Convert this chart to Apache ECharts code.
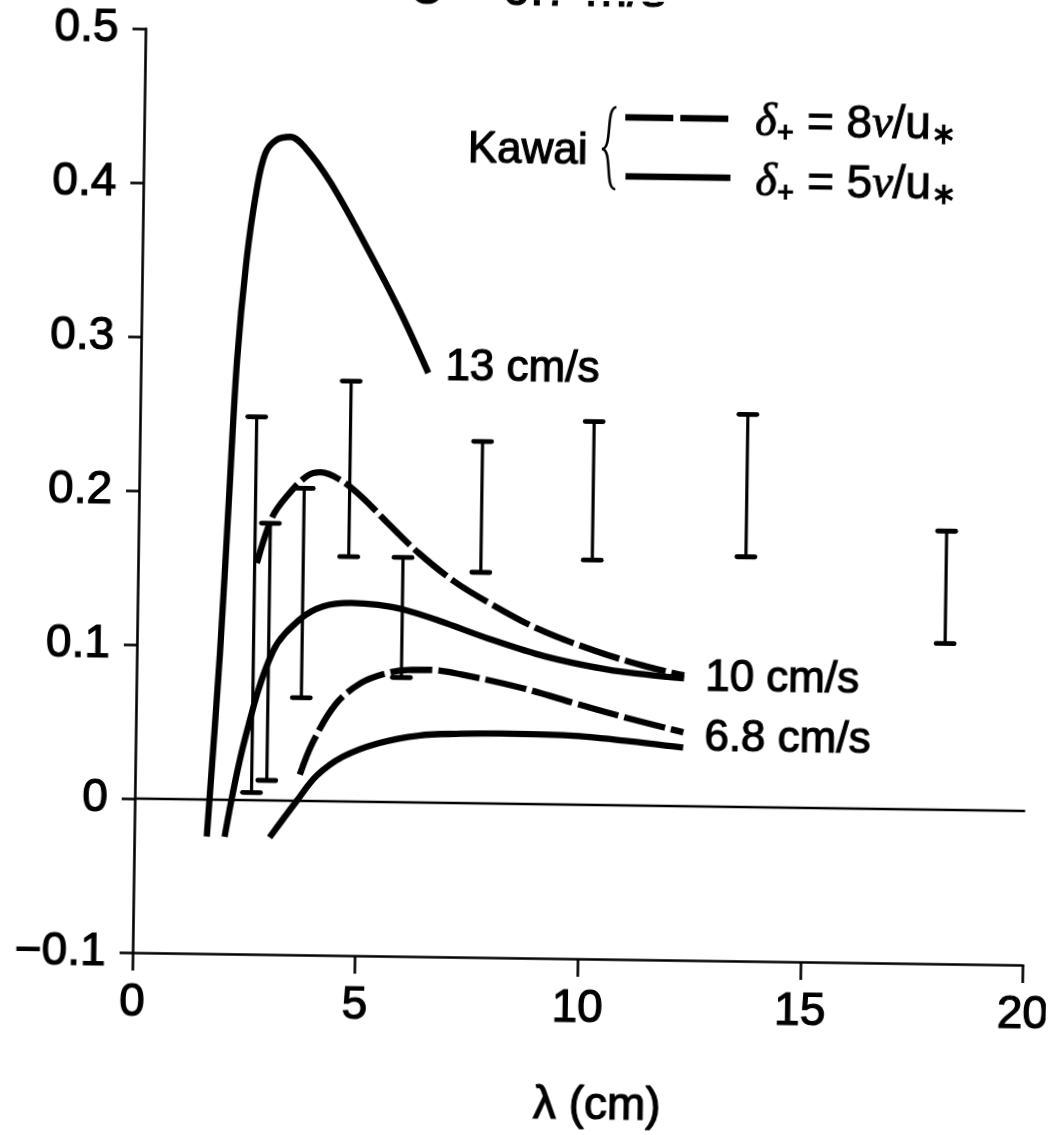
<!DOCTYPE html>
<html>
<head>
<meta charset="utf-8">
<script src="https://cdn.jsdelivr.net/npm/echarts@6/dist/echarts.min.js"></script>
<style>
html,body{margin:0;padding:0;background:#fff;overflow:hidden;}
#chart{width:1052px;height:1135px;transform:rotate(0.8deg);transform-origin:50% 50%;}
</style>
</head>
<body>
<div id="chart"></div>
<script>
// ---------- data ----------
const xTickLabels = ['0', '5', '10', '15', '20'];
const yTickLabels = ['−0.1', '0', '0.1', '0.2', '0.3', '0.4', '0.5'];

// 13 cm/s, Kawai delta+ = 5 nu/u* (solid)
const lam13 = [1.63, 1.87, 2.02, 2.16, 2.34, 2.54, 2.73, 2.98, 3.29, 3.63, 4.2, 5.0, 5.8, 6.46];
const val13 = [-0.024, 0.096, 0.194, 0.285, 0.350, 0.395, 0.420, 0.429, 0.431, 0.424, 0.402, 0.362, 0.319, 0.279];

// 10 cm/s, delta+ = 8 nu/u* (dashed)
const lam10d = [2.67, 3.0, 3.33, 3.77, 4.08, 4.5, 5.0, 5.6, 6.3, 7.1, 7.85, 8.99, 10.3, 11.5, 12.3];
const val10d = [0.154, 0.184, 0.198, 0.211, 0.2135, 0.209, 0.198, 0.181, 0.162, 0.144, 0.131, 0.114, 0.100, 0.090, 0.085];

// 10 cm/s, delta+ = 5 nu/u* (solid)
const lam10s = [2.03, 2.45, 3.06, 3.66, 4.17, 4.8, 5.4, 6.0, 6.8, 7.9, 9.17, 10.57, 11.5, 12.3];
const val10s = [-0.024, 0.039, 0.097, 0.118, 0.1265, 0.129, 0.128, 0.125, 0.118, 0.107, 0.096, 0.088, 0.085, 0.083];

// 6.8 cm/s, delta+ = 8 nu/u* (dashed)
const lam68d = [3.7, 3.98, 4.48, 5.04, 5.6, 6.1, 6.6, 7.3, 8.7, 9.9, 11.0, 12.3];
const val68d = [0.017, 0.038, 0.063, 0.077, 0.0835, 0.086, 0.0862, 0.0835, 0.075, 0.0655, 0.057, 0.048];

// 6.8 cm/s, delta+ = 5 nu/u* (solid)
const lam68s = [3.04, 3.64, 4.08, 4.66, 5.44, 6.36, 7.3, 8.2, 9.6, 11.0, 12.3];
const val68s = [-0.024, 0.0, 0.0165, 0.029, 0.038, 0.0435, 0.045, 0.0455, 0.045, 0.042, 0.038];

// measured ranges (error bars)
const barLambda = [2.62, 2.96, 3.71, 4.73, 5.95, 7.7, 10.2, 13.65, 18.15];
const barLow    = [0.005, 0.013, 0.067, 0.159, 0.081, 0.150, 0.159, 0.1625, 0.108];
const barHigh   = [0.249, 0.180, 0.203, 0.273, 0.159, 0.235, 0.249, 0.255, 0.181];

// zero reference line
const zeroLam = [0, 20];
const zeroVal = [0, 0];

const curveLabels = ['13 cm/s', '10 cm/s', '6.8 cm/s'];
const legendTexts = ['Kawai'];
const titleText = 'U = 6.7 m/s';
const xName = 'λ (cm)';

// ---------- chart ----------
const zip = (a, b) => a.map((v, i) => [v, b[i]]);
const FONT = '"Liberation Sans", Arial, Helvetica, sans-serif';
const BLACK = '#000';
const TB = {textBorderColor: BLACK, textBorderWidth: 1.2};

const chart = echarts.init(document.getElementById('chart'), null, {renderer: 'canvas'});

function lineSeries(name, xs, ys, dashed, label, labOffset) {
  const s = {
    name: name,
    type: 'line',
    data: zip(xs, ys),
    smooth: 0.35,
    showSymbol: false,
    symbol: 'none',
    z: 5,
    lineStyle: {color: BLACK, width: 6.3, type: dashed ? [42, 6] : 'solid', cap: 'butt', join: 'round'},
    silent: true
  };
  if (label) {
    s.endLabel = Object.assign({
      show: true, formatter: label, color: BLACK, fontSize: 44, fontFamily: FONT,
      distance: labOffset[0], offset: [0, labOffset[1]]
    }, TB);
  }
  return s;
}

const richStyle = {
  n: {fontSize: 46, fontFamily: FONT, fill: BLACK, stroke: BLACK, lineWidth: 1, lineHeight: 50},
  g: {fontSize: 46, fontFamily: '"Liberation Serif", serif', fontStyle: 'italic', fill: BLACK, stroke: BLACK, lineWidth: 1, lineHeight: 50},
  s: {fontSize: 30, fontFamily: FONT, fontWeight: 'bold', fill: BLACK, lineHeight: 14, verticalAlign: 'bottom'}
};

const option = {
  animation: false,
  backgroundColor: '#fff',
  grid: {left: 138, right: 23.5, top: 34, bottom: 177, containLabel: false, outerBoundsMode: 'none'},
  xAxis: {
    type: 'value', min: 0, max: 20, interval: 5,
    axisLine: {show: true, onZero: false, lineStyle: {color: BLACK, width: 2.6}},
    axisTick: {show: true, inside: false, length: 18, lineStyle: {color: BLACK, width: 2.6}},
    axisLabel: Object.assign({
      show: true, color: BLACK, fontSize: 46, fontFamily: FONT, margin: 27,
      formatter: (v) => xTickLabels[Math.round(v / 5)]
    }, TB),
    splitLine: {show: false},
    name: xName, nameLocation: 'middle', nameGap: 124,
    nameTextStyle: Object.assign({color: BLACK, fontSize: 46, fontFamily: FONT, padding: [0, 0, 0, 42]}, TB)
  },
  yAxis: {
    type: 'value', min: -0.1, max: 0.5, interval: 0.1,
    axisLine: {show: true, onZero: false, lineStyle: {color: BLACK, width: 2.6}},
    axisTick: {show: true, inside: false, length: 13, lineStyle: {color: BLACK, width: 2.6}},
    axisLabel: Object.assign({
      show: true, color: BLACK, fontSize: 46, fontFamily: FONT, margin: 27,
      formatter: (v) => yTickLabels[Math.round((v + 0.1) * 10)]
    }, TB),
    splitLine: {show: false}
  },
  series: [
    {
      name: 'zero', type: 'line', data: zip(zeroLam, zeroVal), showSymbol: false, symbol: 'none',
      lineStyle: {color: BLACK, width: 2.6}, silent: true, z: 2
    },
    {
      name: 'measured', type: 'custom', z: 3, silent: true,
      data: barLambda.map((x, i) => [x, barLow[i], barHigh[i]]),
      encode: {x: 0, y: [1, 2]},
      renderItem: function (params, api) {
        const x = api.value(0), lo = api.value(1), hi = api.value(2);
        const pHi = api.coord([x, hi]);
        const pLo = api.coord([x, lo]);
        const cw = 9;
        return {
          type: 'group',
          children: [
            {type: 'line', shape: {x1: pHi[0], y1: pHi[1], x2: pLo[0], y2: pLo[1]}, style: {stroke: BLACK, lineWidth: 3.2}},
            {type: 'line', shape: {x1: pHi[0] - cw, y1: pHi[1], x2: pHi[0] + cw, y2: pHi[1]}, style: {stroke: BLACK, lineWidth: 4.8, lineCap: 'round'}},
            {type: 'line', shape: {x1: pLo[0] - cw, y1: pLo[1], x2: pLo[0] + cw, y2: pLo[1]}, style: {stroke: BLACK, lineWidth: 4.8, lineCap: 'round'}}
          ]
        };
      }
    },
    lineSeries('13 cm/s δ+=5ν/u*', lam13, val13, false, curveLabels[0], [17, -5]),
    lineSeries('10 cm/s δ+=8ν/u*', lam10d, val10d, true, curveLabels[1], [21, 3]),
    lineSeries('10 cm/s δ+=5ν/u*', lam10s, val10s, false, null, null),
    lineSeries('6.8 cm/s δ+=8ν/u*', lam68d, val68d, true, curveLabels[2], [21, 6]),
    lineSeries('6.8 cm/s δ+=5ν/u*', lam68s, val68s, false, null, null)
  ],
  graphic: [
    // partially visible heading at the top edge
    {type: 'text', x: 401, y: -9, silent: true,
     style: {text: titleText, fill: BLACK, font: '50px ' + FONT, verticalAlign: 'middle', align: 'left', stroke: BLACK, lineWidth: 1.2}},
    // legend annotation
    {type: 'text', x: 462, y: 151, silent: true,
     style: {text: legendTexts[0], fill: BLACK, font: '44px ' + FONT, verticalAlign: 'middle', align: 'left', stroke: BLACK, lineWidth: 1.2}},
    {type: 'bezierCurve', silent: true,
     shape: {x1: 610, y1: 106, cpx1: 599, cpy1: 106, cpx2: 607, cpy2: 148, x2: 596, y2: 148},
     style: {fill: 'none', stroke: BLACK, lineWidth: 2.6}},
    {type: 'bezierCurve', silent: true,
     shape: {x1: 596, y1: 148, cpx1: 607, cpy1: 148, cpx2: 599, cpy2: 188, x2: 610, y2: 188},
     style: {fill: 'none', stroke: BLACK, lineWidth: 2.6}},
    {type: 'line', silent: true, shape: {x1: 619, y1: 116, x2: 724, y2: 116},
     style: {stroke: BLACK, lineWidth: 6.3, lineDash: [48, 7]}},
    {type: 'line', silent: true, shape: {x1: 620, y1: 175, x2: 725, y2: 175},
     style: {stroke: BLACK, lineWidth: 6.3}},
    {type: 'text', x: 749, y: 120, silent: true,
     style: {text: '{g|δ}{s|+}{n| = 8}{g|ν}{n|/u}{s|∗}', verticalAlign: 'middle', align: 'left', rich: richStyle}},
    {type: 'text', x: 750, y: 180, silent: true,
     style: {text: '{g|δ}{s|+}{n| = 5}{g|ν}{n|/u}{s|∗}', verticalAlign: 'middle', align: 'left', rich: richStyle}}
  ]
};

chart.setOption(option);
</script>
</body>
</html>
